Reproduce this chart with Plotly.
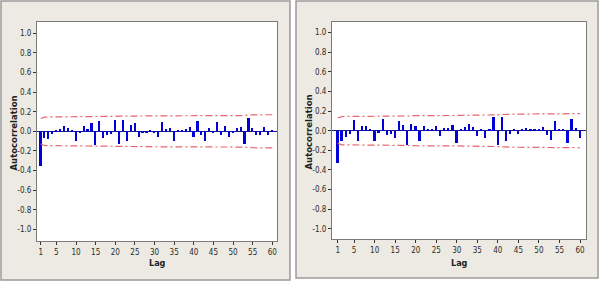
import plotly.graph_objects as go

W, H = 600, 281

lags = list(range(1, 61))

acf_left = [-0.35, -0.07, -0.08, -0.03, 0.01, 0.02, 0.05, 0.03, 0.01, -0.10,
            -0.02, 0.05, 0.02, 0.08, -0.14, 0.11, -0.07, -0.04, -0.03, 0.12,
            -0.13, 0.12, -0.10, 0.06, 0.08, -0.06, -0.02, -0.02, 0.01, -0.02,
            -0.06, 0.09, 0.02, 0.03, -0.10, 0.01, 0.01, 0.02, 0.04, -0.06,
            0.11, -0.04, -0.10, 0.03, -0.02, 0.10, -0.04, 0.05, -0.06, -0.01,
            0.03, 0.04, -0.13, 0.14, 0.03, -0.04, -0.04, 0.04, -0.04, 0.01]

band_left = [0.130, 0.145, 0.146, 0.146, 0.147, 0.147, 0.147, 0.147, 0.147, 0.147,
             0.148, 0.148, 0.148, 0.148, 0.149, 0.151, 0.152, 0.153, 0.153, 0.153,
             0.154, 0.155, 0.156, 0.157, 0.157, 0.157, 0.157, 0.157, 0.157, 0.157,
             0.157, 0.158, 0.158, 0.158, 0.158, 0.158, 0.159, 0.159, 0.159, 0.159,
             0.159, 0.160, 0.160, 0.160, 0.161, 0.161, 0.161, 0.161, 0.161, 0.161,
             0.161, 0.161, 0.161, 0.167, 0.169, 0.169, 0.169, 0.169, 0.169, 0.169]

acf_right = [-0.33, -0.10, -0.06, -0.03, 0.11, -0.10, 0.05, 0.05, 0.02, -0.10,
             -0.02, 0.12, -0.04, -0.03, -0.07, 0.10, 0.06, -0.15, 0.07, 0.05,
             -0.10, 0.05, 0.01, 0.01, 0.05, -0.05, 0.03, 0.03, 0.06, -0.13,
             0.01, 0.04, 0.07, 0.04, -0.05, 0.02, -0.07, 0.01, 0.14, -0.15,
             0.14, -0.10, -0.03, 0.02, -0.03, 0.02, 0.03, 0.01, 0.01, 0.01,
             0.04, -0.04, -0.09, 0.10, 0.01, 0.02, -0.13, 0.12, 0.03, -0.07]

band_right = [0.130, 0.144, 0.145, 0.145, 0.145, 0.146, 0.147, 0.147, 0.147, 0.147,
              0.148, 0.148, 0.150, 0.150, 0.150, 0.150, 0.150, 0.150, 0.153, 0.154,
              0.154, 0.155, 0.155, 0.155, 0.155, 0.155, 0.155, 0.155, 0.155, 0.155,
              0.158, 0.159, 0.159, 0.159, 0.159, 0.159, 0.159, 0.159, 0.159, 0.162,
              0.165, 0.168, 0.169, 0.169, 0.169, 0.169, 0.169, 0.169, 0.169, 0.169,
              0.169, 0.169, 0.169, 0.170, 0.170, 0.170, 0.170, 0.172, 0.174, 0.174]

x_ticks = [1, 5, 10, 15, 20, 25, 30, 35, 40, 45, 50, 55, 60]
y_ticks = [-1.0, -0.8, -0.6, -0.4, -0.2, 0.0, 0.2, 0.4, 0.6, 0.8, 1.0]
y_tick_text = ["%.1f" % v for v in y_ticks]

BAR_COLOR = "#0000D8"
BAND_COLOR = "#E8676B"
PANEL_BG = "#EDEAE3"
PANEL_BORDER = "#9A9A9A"
FRAME = "#7A7A7A"
TICK_FONT = dict(family="Liberation Sans Narrow, DejaVu Sans Condensed, Arial", size=8, color="#2A2A2A")


def px(x):
    return x / W


def py(y):
    return 1 - y / H


fig = go.Figure()

panels = [
    dict(acf=acf_left, band=band_left, xa="x", ya="y",
         dom_x=(37, 277), dom_y=(22, 241), xr=[0.06, 61.2], yr=[-1.119, 1.115],
         box=(1, 1, 290, 280), ytitle_x=13),
    dict(acf=acf_right, band=band_right, xa="x2", ya="y2",
         dom_x=(332, 586), dom_y=(22, 239), xr=[-0.39, 61.46], yr=[-1.105, 1.109],
         box=(296, 1, 598, 278), ytitle_x=308),
]

shapes = []
annotations = []

for i, p in enumerate(panels):
    fig.add_trace(go.Bar(x=lags, y=p["acf"], width=0.42, marker=dict(color=BAR_COLOR, line=dict(width=0)),
                         xaxis=p["xa"], yaxis=p["ya"], showlegend=False))
    fig.add_trace(go.Scatter(x=lags, y=p["band"], mode="lines",
                             line=dict(color=BAND_COLOR, width=1.2, dash="7px,3px,2px,3px"),
                             xaxis=p["xa"], yaxis=p["ya"], showlegend=False))
    fig.add_trace(go.Scatter(x=lags, y=[-v for v in p["band"]], mode="lines",
                             line=dict(color=BAND_COLOR, width=1.2, dash="7px,3px,2px,3px"),
                             xaxis=p["xa"], yaxis=p["ya"], showlegend=False))

    sfx = "" if i == 0 else "2"
    x0, y0, x1, y1 = p["box"]
    shapes.append(dict(type="rect", xref="paper", yref="paper", layer="below",
                       x0=px(x0), x1=px(x1), y0=py(y1), y1=py(y0),
                       fillcolor=PANEL_BG, line=dict(color=PANEL_BORDER, width=1.5)))
    shapes.append(dict(type="rect", xref="x%s domain" % sfx, yref="y%s domain" % sfx, layer="below",
                       x0=0, x1=1, y0=0, y1=1, fillcolor="white", line=dict(width=0)))

    axis_common = dict(showline=True, linecolor=FRAME, linewidth=1, mirror=True,
                       ticks="outside", ticklen=3, tickwidth=1, tickcolor="#333333",
                       showgrid=False, tickfont=TICK_FONT)
    fig.update_layout(**{
        "xaxis%s" % sfx: dict(domain=[px(p["dom_x"][0]), px(p["dom_x"][1])], range=p["xr"],
                              tickvals=x_ticks, zeroline=False, anchor="y%s" % sfx, **axis_common),
        "yaxis%s" % sfx: dict(domain=[py(p["dom_y"][1]), py(p["dom_y"][0])], range=p["yr"],
                              tickvals=y_ticks, ticktext=y_tick_text, zeroline=True,
                              zerolinecolor="#1A1A8C", zerolinewidth=1, anchor="x%s" % sfx,
                              **axis_common),
    })

    cx = (p["dom_x"][0] + p["dom_x"][1]) / 2
    annotations.append(dict(text="<b>Lag</b>", xref="paper", yref="paper", x=px(cx), y=py(263),
                            xanchor="center", yanchor="middle", showarrow=False,
                            font=dict(family="Liberation Sans Narrow, DejaVu Sans Condensed, Arial",
                                      size=9, color="#222222")))
    cy = (p["dom_y"][0] + p["dom_y"][1]) / 2 + 2
    annotations.append(dict(text="<b>Autocorrelation</b>", xref="paper", yref="paper",
                            x=px(p["ytitle_x"]), y=py(cy), textangle=-90,
                            xanchor="center", yanchor="middle", showarrow=False,
                            font=dict(family="DejaVu Sans, Verdana", size=8.5, color="#222222")))

fig.update_layout(width=W, height=H, margin=dict(l=0, r=0, t=0, b=0),
                  paper_bgcolor="white", plot_bgcolor="rgba(0,0,0,0)",
                  shapes=shapes, annotations=annotations, bargap=0)

fig.write_html("out.html")
